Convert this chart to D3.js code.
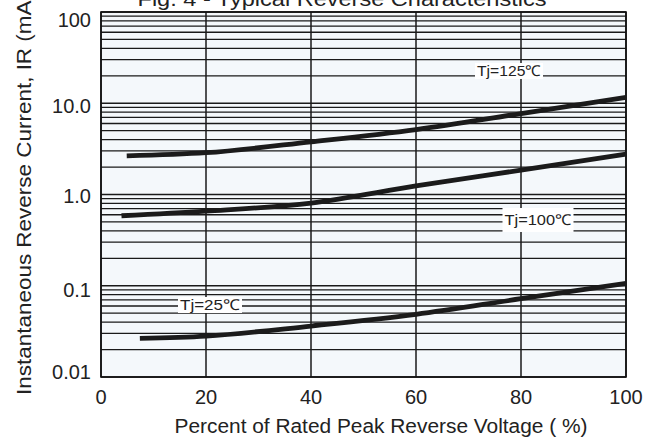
<!DOCTYPE html>
<html>
<head>
<meta charset="utf-8">
<style>
  body { margin: 0; background: #fff; }
  svg { display: block; font-family: "Liberation Sans", Arial, sans-serif; }
</style>
</head>
<body>
<svg width="655" height="439"></svg>
<script src="https://d3js.org/d3.v7.min.js"></script>
<script>
// values (x = % of rated voltage, y = mA)
const xTicks = [0, 20, 40, 60, 80, 100];
const yTicks = [0.01, 0.1, 1, 10, 100];
const yTickLabels = ["0.01", "0.1", "1.0", "10.0", "100"];

const pct125 = [4.9, 20, 40, 60, 80, 100];
const ir125 = [2.65, 2.87, 3.78, 5.15, 7.72, 11.6];

const pct100 = [3.9, 20, 40, 60, 80, 100];
const ir100 = [0.585, 0.657, 0.805, 1.24, 1.85, 2.77];

const pct25 = [7.4, 20, 40, 60, 80, 100];
const ir25 = [0.0265, 0.0281, 0.0362, 0.0486, 0.0721, 0.106];

const curveLabels = ["Tj=125℃", "Tj=100℃", "Tj=25℃"];

let svg = d3.select("svg");
let mLeft = 101, mRight = 626, mTop = 12, mBottom = 377;

let x = d3.scaleLinear().domain([0, 100]).range([mLeft, mRight]);
let y = d3.scaleLog().domain([0.01, 100]).range([mBottom, mTop]);

// plot background
svg.append("rect")
  .attr("x", mLeft).attr("y", mTop)
  .attr("width", mRight - mLeft).attr("height", mBottom - mTop)
  .attr("fill", "#f4f8fb");

// log grid: 1..9 in every decade
let minor = [];
for (let e = -2; e < 2; e++) {
  for (let k = 1; k < 10; k++) minor.push(k * Math.pow(10, e));
}
minor.push(100);

svg.append("g")
  .selectAll("line")
  .data(minor)
  .join("line")
  .attr("x1", mLeft).attr("x2", mRight)
  .attr("y1", d => y(d)).attr("y2", d => y(d))
  .attr("stroke", "#1a1a1a")
  .attr("stroke-width", 1.3);

svg.append("g")
  .selectAll("line")
  .data(xTicks)
  .join("line")
  .attr("x1", d => x(d)).attr("x2", d => x(d))
  .attr("y1", mTop).attr("y2", mBottom)
  .attr("stroke", "#1a1a1a")
  .attr("stroke-width", 1.5);

svg.append("rect")
  .attr("x", mLeft).attr("y", mTop)
  .attr("width", mRight - mLeft).attr("height", mBottom - mTop)
  .attr("fill", "none")
  .attr("stroke", "#111")
  .attr("stroke-width", 1.6);

// curves
let line = d3.line()
  .x(d => x(d[0]))
  .y(d => y(d[1]))
  .curve(d3.curveMonotoneX);

let series = [
  d3.zip(pct125, ir125),
  d3.zip(pct100, ir100),
  d3.zip(pct25, ir25)
];

svg.append("g")
  .selectAll("path")
  .data(series)
  .join("path")
  .attr("d", line)
  .attr("fill", "none")
  .attr("stroke", "#1b1b1b")
  .attr("stroke-width", 4.8)
  .attr("stroke-linecap", "butt");

// curve labels with white boxes
let labelPos = [[509, 71], [538, 220], [210, 305]];
let labelW = [64, 67, 60];
let boxH = [16, 24, 16];
let lbl = svg.append("g")
  .selectAll("g")
  .data(curveLabels)
  .join("g")
  .attr("transform", (d, i) => `translate(${labelPos[i]})`);

lbl.append("rect")
  .attr("x", (d, i) => -labelW[i] / 2 - 2)
  .attr("y", (d, i) => -boxH[i] / 2)
  .attr("width", (d, i) => labelW[i] + 4)
  .attr("height", (d, i) => boxH[i])
  .attr("fill", "#fff");

lbl.append("text")
  .attr("text-anchor", "middle")
  .attr("dy", "0.35em")
  .attr("font-size", 15)
  .attr("textLength", (d, i) => labelW[i])
  .attr("lengthAdjust", "spacingAndGlyphs")
  .attr("fill", "#222")
  .text(d => d);

// tick labels
svg.append("g")
  .selectAll("text")
  .data(xTicks)
  .join("text")
  .attr("x", d => x(d))
  .attr("y", 397)
  .attr("dy", "0.35em")
  .attr("text-anchor", "middle")
  .attr("font-size", 20)
  .attr("fill", "#222")
  .text(d => d);

let yNudge = [-5, 4, 1, 3, 8];
svg.append("g")
  .selectAll("text")
  .data(yTicks)
  .join("text")
  .attr("x", 91)
  .attr("y", (d, i) => y(d) + yNudge[i])
  .attr("dy", "0.35em")
  .attr("text-anchor", "end")
  .attr("font-size", 20)
  .attr("fill", "#222")
  .text((d, i) => yTickLabels[i]);

// titles
svg.append("text")
  .attr("x", 342).attr("y", 6)
  .attr("text-anchor", "middle")
  .attr("font-size", 20)
  .attr("textLength", 409)
  .attr("lengthAdjust", "spacingAndGlyphs")
  .attr("fill", "#222")
  .text("Fig. 4  - Typical Reverse Characteristics");

svg.append("text")
  .attr("x", 381).attr("y", 433)
  .attr("text-anchor", "middle")
  .attr("font-size", 20)
  .attr("textLength", 413)
  .attr("lengthAdjust", "spacingAndGlyphs")
  .attr("fill", "#222")
  .text("Percent of Rated Peak Reverse Voltage ( %)");

svg.append("text")
  .attr("transform", "translate(31,395) rotate(-90)")
  .attr("text-anchor", "start")
  .attr("font-size", 20.5)
  .attr("textLength", 402)
  .attr("lengthAdjust", "spacingAndGlyphs")
  .attr("fill", "#222")
  .text("Instantaneous Reverse Current, IR (mA)");
</script>
</body>
</html>
